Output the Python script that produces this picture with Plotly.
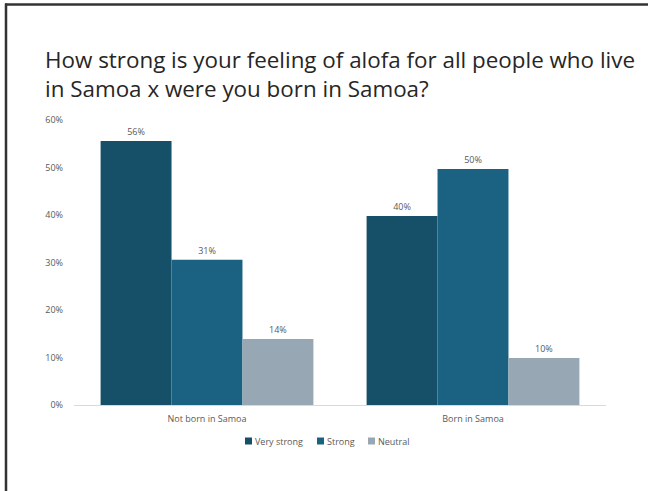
import plotly.graph_objects as go

categories = ["Not born in Samoa", "Born in Samoa"]
series_names = ["Very strong", "Strong", "Neutral"]
very_strong = [0.556, 0.398]
strong = [0.306, 0.497]
neutral = [0.139, 0.099]
colors = ["#154F68", "#1B6282", "#97A8B4"]
y_ticks = [0, 0.1, 0.2, 0.3, 0.4, 0.5, 0.6]
title_text = ("How strong is your feeling of alofa for all people who live<br>"
              "in Samoa x were you born in Samoa?")

fig = go.Figure()
for name, vals, col in zip(series_names, [very_strong, strong, neutral], colors):
    fig.add_trace(go.Bar(
        x=categories, y=vals, name=name,
        marker=dict(color=col, line=dict(width=0)),
        texttemplate="%{y:.0%}", textposition="outside",
        textfont=dict(size=9, color="#595959"),
        cliponaxis=False, showlegend=False,
    ))

W, H = 648, 491
ml, mr, mt, mb = 74, 42, 120, 86
pw = W - ml - mr
ph = H - mt - mb
def px_x(x):
    return (x - ml) / pw
def px_y(y):
    return (H - mb - y) / ph

fig.update_layout(
    width=W, height=H,
    margin=dict(l=ml, r=mr, t=mt, b=mb),
    paper_bgcolor="white", plot_bgcolor="white",
    barmode="group", bargap=0.2, bargroupgap=0,
    font=dict(family="Open Sans, sans-serif", color="#595959"),
    xaxis=dict(showgrid=False, showline=True, linecolor="#D9D9D9", linewidth=1,
               ticks="", tickfont=dict(size=9, color="#595959"), ticklabelstandoff=5),
    yaxis=dict(range=[0, 0.6], tickvals=y_ticks, tickformat=".0%", showgrid=False,
               zeroline=False, showline=False, ticks="",
               tickfont=dict(size=9, color="#595959"), ticklabelstandoff=10),
    showlegend=False,
)

# title (two lines)
fig.add_annotation(text=title_text, xref="paper", yref="paper", x=px_x(43), y=px_y(74),
                   xanchor="left", yanchor="middle", align="left", showarrow=False,
                   font=dict(size=22.4, color="#262626", family="Open Sans, sans-serif"))

# manual compact legend
leg_sq_x = [245, 317, 368]
leg_y = 441
for name, col, sx in zip(series_names, colors, leg_sq_x):
    fig.add_shape(type="rect", xref="paper", yref="paper",
                  x0=px_x(sx), x1=px_x(sx + 7), y0=px_y(leg_y - 3.5), y1=px_y(leg_y + 3.5),
                  line=dict(width=0), fillcolor=col)
    fig.add_annotation(text=name, xref="paper", yref="paper", x=px_x(sx + 8), y=px_y(leg_y),
                       xanchor="left", yanchor="middle", showarrow=False,
                       font=dict(size=9, color="#595959"))

# frame (left and top edges only)
fx, fy = 6, 4.5
fig.add_shape(type="line", xref="paper", yref="paper",
              x0=px_x(fx), x1=px_x(fx), y0=px_y(fy - 1), y1=px_y(H),
              line=dict(color="#333333", width=2.5))
fig.add_shape(type="line", xref="paper", yref="paper",
              x0=px_x(fx - 1), x1=px_x(W), y0=px_y(fy), y1=px_y(fy),
              line=dict(color="#333333", width=2.5))

fig.write_html("out.html", config={"displayModeBar": False},
               post_script="document.body.style.margin='0';document.body.style.overflow='hidden';")
